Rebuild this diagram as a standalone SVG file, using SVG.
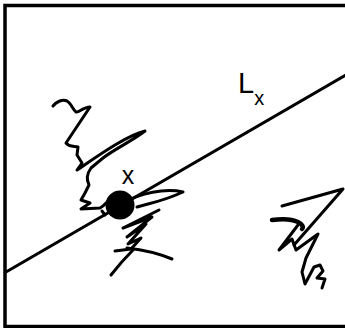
<svg xmlns="http://www.w3.org/2000/svg" width="345" height="328" viewBox="0 0 345 328">
<style>
.frame{fill:none;stroke:#000;stroke-width:3.5}
.ln{fill:none;stroke:#000;stroke-width:3;stroke-linecap:round;stroke-linejoin:round}
.sq{fill:none;stroke:#000;stroke-width:3;stroke-linecap:round;stroke-linejoin:round}
.thick{fill:none;stroke:#000;stroke-width:4.5;stroke-linecap:round;stroke-linejoin:round}
.lbl{font-family:"Liberation Sans",Arial,sans-serif;fill:#000}
</style>
<rect class="frame" x="5" y="5.5" width="345" height="321"/>
<g id="connectors">
<line id="Lx-line" class="ln" x1="6" y1="272" x2="346" y2="75"/>
</g>
<g id="squiggle-left">
<path class="sq" d="M53,106 C56,102 62,99 67,101 C71,103 73,110 76,112 C79,113 83,107 90,107 L66,143 C69,147 74,146 78,147 L77,155 L82,163 L77,170 C95,158 125,136 145,131 C132,141 113,150 103,158 L91,168 C86,175 87,181 89,185 L85,193 L81,200 L90,203 L81,209 L100,208 C104,206 106,203 109,200"/>
<path class="sq" d="M102,211 L105,215"/>
</g>
<g id="squiggle-center">
<path class="sq" d="M123,203 C140,193 165,188 183,192 C172,197 160,201 148,204 L137,207"/>
<path class="sq" d="M159,210 L123,228 L152,217 L127,237 L146,224 L128,244 L141,238 L131,249 L115,251"/>
<path class="sq" d="M127,248 C145,250 160,254 172,259"/>
<path class="sq" d="M133,250 C125,258 118,266 111,275"/>
</g>
<g id="squiggle-right">
<path class="sq" d="M282,206 L343,189 L294,245"/>
<path class="thick" d="M272,220 C280,219 292,219 298,222 C302,224 304,227 302,229"/>
<path class="sq" d="M298,225 L279,250 L292,239 L296,250 L318,234 L306,258 L302,272 L305,284 L314,267 L320,265 L323,271 L317,278 L325,279 L322,288"/>
</g>
<g id="node-x">
<circle cx="120" cy="205" r="14.5" fill="#000"/>
<text class="lbl" x="128" y="183.5" font-size="25" text-anchor="middle">x</text>
</g>
<g id="label-Lx">
<text class="lbl" x="238" y="93" font-size="29">L<tspan font-size="20" dy="12">x</tspan></text>
</g>
</svg>
